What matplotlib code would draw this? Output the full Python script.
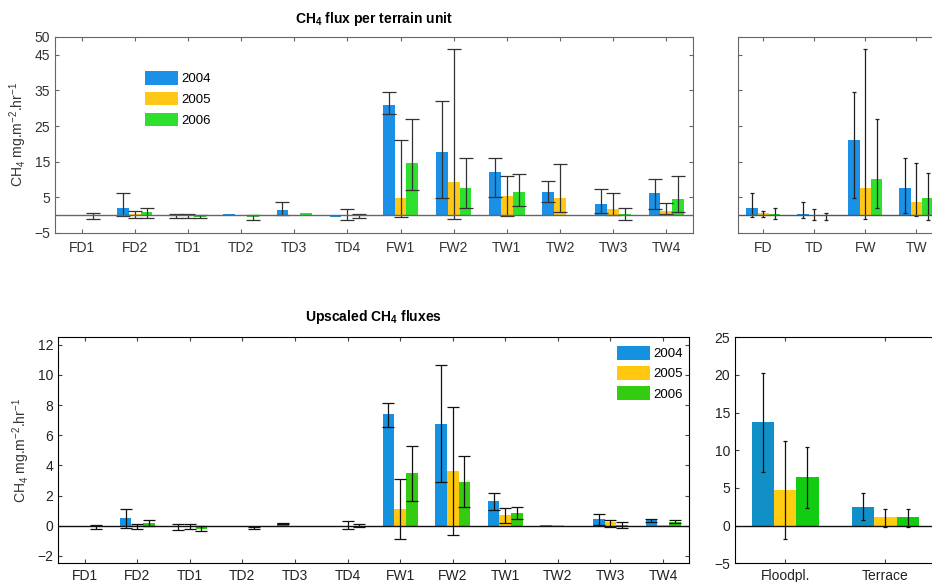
import matplotlib.pyplot as plt
import numpy as np

plt.rcParams['font.family'] = ['Liberation Sans', 'DejaVu Sans']
plt.rcParams['mathtext.fontset'] = 'custom'
plt.rcParams['mathtext.rm'] = 'Liberation Sans'
plt.rcParams['mathtext.bf'] = 'Liberation Sans:bold'

nan = np.nan
years = ['2004', '2005', '2006']

# Top left: CH4 flux per terrain unit
units = ['FD1', 'FD2', 'TD1', 'TD2', 'TD3', 'TD4', 'FW1', 'FW2', 'TW1', 'TW2', 'TW3', 'TW4']
flux_2004 = [nan, 2.1, -0.3, 0.2, 1.4, -0.5, 30.8, 17.7, 12.1, 6.6, 3.2, 6.2]
flux_2005 = [nan, 0.2, -0.3, nan, nan, -0.2, 4.7, 9.3, 5.3, 4.7, 1.7, 1.1]
flux_2006 = [-0.3, 0.8, -0.4, -0.6, 0.5, -0.3, 14.7, 7.6, 6.4, nan, 0.3, 4.4]
flux_lo_2004 = [nan, -0.3, -0.9, nan, 0.0, nan, 28.5, 4.85, 5.1, 3.8, 0.5, 1.6]
flux_hi_2004 = [nan, 6.3, 0.3, nan, 3.8, nan, 34.5, 31.9, 15.9, 9.6, 7.3, 10.1]
flux_lo_2005 = [nan, -0.9, -0.9, nan, nan, -1.4, -0.65, -1.2, -0.2, 0.75, 0.0, 0.3]
flux_hi_2005 = [nan, 1.2, 0.3, nan, nan, 1.6, 21.2, 46.6, 11.0, 14.4, 6.1, 3.3]
flux_lo_2006 = [-1.2, -0.7, -0.9, -1.4, nan, -0.9, 7.0, 2.1, 2.6, nan, -1.4, 0.75]
flux_hi_2006 = [0.5, 2.1, 0.0, 0.0, nan, 0.3, 27.1, 16.1, 11.6, nan, 2.1, 11.1]

# Top right: per terrain type
types = ['FD', 'TD', 'FW', 'TW']
type_2004 = [1.9, 0.4, 21.0, 7.5]
type_2005 = [0.5, 0.0, 7.7, 3.7]
type_2006 = [0.3, -0.2, 10.2, 4.7]
type_lo_2004 = [-0.5, -0.9, 4.85, 0.5]
type_hi_2004 = [6.3, 3.8, 34.5, 15.9]
type_lo_2005 = [-0.5, -1.4, -1.2, -0.2]
type_hi_2005 = [1.2, 1.6, 46.6, 14.5]
type_lo_2006 = [-1.1, -1.4, 2.1, -1.4]
type_hi_2006 = [2.1, 0.65, 27.1, 11.7]

# Bottom left: upscaled CH4 fluxes
up_2004 = [nan, 0.49, -0.1, -0.05, 0.15, -0.05, 7.39, 6.77, 1.61, 0.05, 0.44, 0.37]
up_2005 = [nan, 0.05, -0.05, nan, nan, 0.0, 1.08, 3.6, 0.73, 0.03, 0.22, 0.07]
up_2006 = [-0.1, 0.2, -0.2, -0.1, nan, -0.05, 3.49, 2.91, 0.84, nan, 0.05, 0.26]
up_lo_2004 = [nan, -0.13, -0.3, nan, 0.1, nan, 6.57, 2.91, 1.01, nan, 0.07, 0.22]
up_hi_2004 = [nan, 1.08, 0.1, nan, 0.2, nan, 8.16, 10.68, 2.18, nan, 0.79, 0.46]
up_lo_2005 = [nan, -0.25, -0.2, nan, nan, -0.25, -0.88, -0.64, 0.2, nan, -0.07, nan]
up_hi_2005 = [nan, 0.1, 0.1, nan, nan, 0.28, 3.07, 7.88, 1.19, nan, 0.4, nan]
up_lo_2006 = [-0.25, -0.05, -0.35, -0.25, nan, -0.1, 1.65, 1.26, 0.42, nan, -0.18, 0.15]
up_hi_2006 = [0.05, 0.35, 0.0, -0.1, nan, 0.1, 5.29, 4.59, 1.26, nan, 0.26, 0.4]

# Bottom right: floodplain vs terrace
zones = ['Floodpl.', 'Terrace']
zone_2004 = [13.7, 2.5]
zone_2005 = [4.73, 1.1]
zone_2006 = [6.4, 1.1]
zone_lo_2004 = [7.1, 0.7]
zone_hi_2004 = [20.3, 4.3]
zone_lo_2005 = [-1.77, -0.2]
zone_hi_2005 = [11.3, 2.26]
zone_lo_2006 = [2.35, -0.13]
zone_hi_2006 = [10.5, 2.26]

ylab = r'CH$_4$ mg.m$^{-2}$.hr$^{-1}$'


def grouped(ax, cats, series, lows, highs, colors, capsize, ecolor, zcolor,
            pad=6, xmax=None):
    x = np.arange(1, len(cats) + 1)
    w = 0.222
    for i, (vals, lo, hi) in enumerate(zip(series, lows, highs)):
        vals = np.array(vals, dtype=float)
        lo = np.array(lo, dtype=float)
        hi = np.array(hi, dtype=float)
        pos = x + (i - 1) * w
        ax.bar(pos, np.nan_to_num(vals), w, color=colors[i], label=years[i],
               linewidth=0)
        ok = ~np.isnan(lo)
        yerr = np.vstack([np.clip(vals[ok] - lo[ok], 0, None),
                          np.clip(hi[ok] - vals[ok], 0, None)])
        ax.errorbar(pos[ok], np.nan_to_num(vals[ok]), yerr=yerr, fmt='none',
                    ecolor=ecolor, elinewidth=0.9, capsize=capsize,
                    capthick=0.9)
    ax.axhline(0, color=zcolor, linewidth=1.0)
    ax.set_xticks(x)
    ax.set_xticklabels(cats)
    ax.set_xlim(0.5, xmax if xmax else len(cats) + 0.5)
    ax.tick_params(direction='in', top=True, right=True, length=3,
                   labelsize=10)
    ax.tick_params(axis='x', pad=pad)
    return x


fig = plt.figure(figsize=(9.32, 5.82), dpi=100)

top_cols = ['#1a90e6', '#ffc818', '#2de02d']
bot_cols = ['#1492e0', '#ffc80f', '#33cc11']
zone_cols = ['#1190c8', '#ffcc11', '#11cc11']

# top left
ax1 = fig.add_axes([0.059, 0.5997, 0.6845, 0.3368])
grouped(ax1, units, [flux_2004, flux_2005, flux_2006],
        [flux_lo_2004, flux_lo_2005, flux_lo_2006],
        [flux_hi_2004, flux_hi_2005, flux_hi_2006],
        top_cols, 4.7, '#333333', '#666666')
ax1.set_ylim(-5, 50)
ax1.set_yticks([-5, 5, 15, 25, 35, 45, 50])
ax1.set_ylabel(ylab, fontsize=10, color='#333333')
ax1.set_title(r'$\mathbf{CH_4}$ flux per terrain unit', fontsize=10,
              fontweight='bold', pad=10)
ax1.legend(loc='upper left', bbox_to_anchor=(145 / 932, 1 - 71 / 582),
           bbox_transform=fig.transFigure, frameon=False, fontsize=9.5,
           handlelength=2.5, handleheight=1.2, labelspacing=0.5,
           handletextpad=0.25, borderpad=0, borderaxespad=0)

# top right (cut off at the right edge)
ax2 = fig.add_axes([0.7915, 0.5997, 0.2192, 0.3368])
grouped(ax2, types, [type_2004, type_2005, type_2006],
        [type_lo_2004, type_lo_2005, type_lo_2006],
        [type_hi_2004, type_hi_2005, type_hi_2006],
        top_cols, 1.3, '#222222', '#555555')
ax2.set_ylim(-5, 50)
ax2.set_yticks([-5, 5, 15, 25, 35, 45, 50])
ax2.set_yticklabels([])

# bottom left
ax3 = fig.add_axes([0.0626, 0.0321, 0.677, 0.3883])
grouped(ax3, units, [up_2004, up_2005, up_2006],
        [up_lo_2004, up_lo_2005, up_lo_2006],
        [up_hi_2004, up_hi_2005, up_hi_2006],
        bot_cols, 4.6, '#111111', '#111111', pad=4)
ax3.set_ylim(-2.5, 12.5)
ax3.set_yticks([-2, 0, 2, 4, 6, 8, 10, 12])
ax3.set_ylabel(ylab, fontsize=10, color='#333333')
ax3.set_title(r'Upscaled $\mathbf{CH_4}$ fluxes', fontsize=10,
              fontweight='bold', pad=12)
ax3.legend(loc='upper left', bbox_to_anchor=(617 / 932, 1 - 346 / 582),
           bbox_transform=fig.transFigure, frameon=False, fontsize=9.5,
           handlelength=2.5, handleheight=1.2, labelspacing=0.45,
           handletextpad=0.25, borderpad=0, borderaxespad=0)

# bottom right (cut off at the right edge)
ax4 = fig.add_axes([0.7886, 0.0321, 0.323, 0.3883])
grouped(ax4, zones, [zone_2004, zone_2005, zone_2006],
        [zone_lo_2004, zone_lo_2005, zone_lo_2006],
        [zone_hi_2004, zone_hi_2005, zone_hi_2006],
        zone_cols, 1.3, '#111111', '#111111', pad=4, xmax=3.5)
ax4.set_ylim(-5, 25)
ax4.set_yticks([-5, 0, 5, 10, 15, 20, 25])

for ax in [ax1, ax2]:
    for s in ax.spines.values():
        s.set_color('#666666')
    ax.tick_params(colors='#666666', labelcolor='#333333')
for ax in [ax3, ax4]:
    ax.tick_params(colors='#444444', labelcolor='#222222')

plt.savefig('out.png', dpi=100)
